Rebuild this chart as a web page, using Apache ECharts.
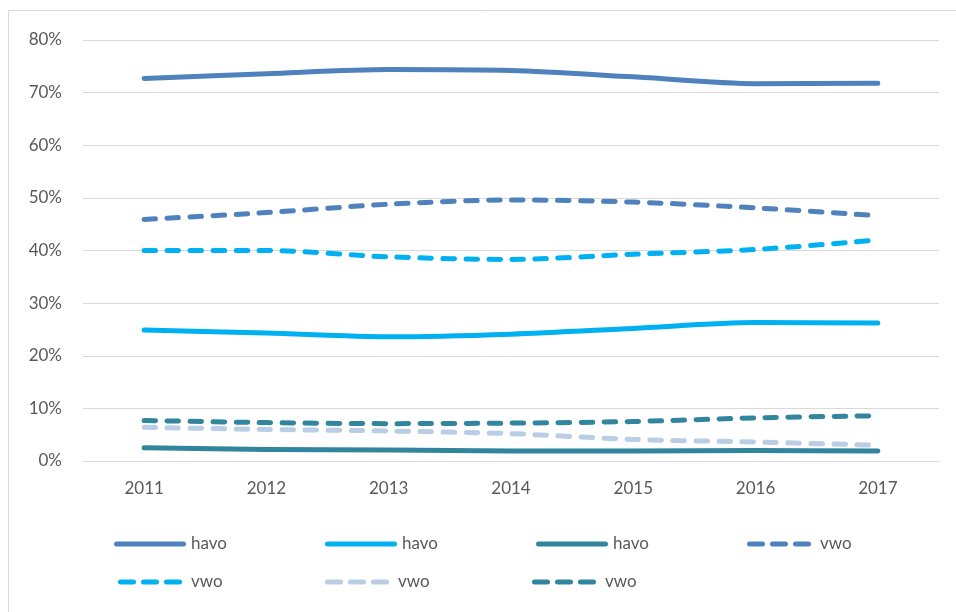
<!DOCTYPE html>
<html>
<head>
<meta charset="utf-8">
<script src="https://cdn.jsdelivr.net/npm/echarts@6/dist/echarts.min.js"></script>
<style>
  html, body { margin: 0; padding: 0; background: #ffffff; }
  #chart { width: 956px; height: 612px; }
</style>
</head>
<body>
<div id="chart"></div>
<script>
// Years on the x axis
const years = ['2011', '2012', '2013', '2014', '2015', '2016', '2017'];

// Shares per year, in percent
const havoBlue  = [72.7, 73.6, 74.4, 74.2, 73.0, 71.7, 71.8];
const havoCyan  = [24.9, 24.3, 23.6, 24.1, 25.2, 26.3, 26.2];
const havoTeal  = [2.5, 2.2, 2.1, 1.9, 1.9, 2.0, 1.9];
const vwoBlue   = [45.9, 47.2, 48.8, 49.6, 49.2, 48.1, 46.6];
const vwoCyan   = [40.0, 40.0, 38.8, 38.3, 39.3, 40.2, 42.0];
const vwoPale   = [6.4, 6.0, 5.7, 5.2, 4.1, 3.6, 3.0];
const vwoTeal   = [7.7, 7.3, 7.1, 7.2, 7.5, 8.2, 8.6];

// Legend labels
const legendLabels = ['havo', 'havo', 'havo', 'vwo', 'vwo', 'vwo', 'vwo'];

const FONT = 'Lato, "Open Sans", sans-serif';
const TEXT = '#595959';
const GRID = '#D9D9D9';

// Legend swatches: one rounded bar for solid lines, three rounded dashes for dashed ones
const solidIcon = 'path://M2.5,0H69.5A2.5,2.5 0 0 1 69.5,5H2.5A2.5,2.5 0 0 1 2.5,0Z';
const dashIcon = 'path://M2.5,0H15.5A2.5,2.5 0 0 1 15.5,5H2.5A2.5,2.5 0 0 1 2.5,0Z' +
  'M25.5,0H38.5A2.5,2.5 0 0 1 38.5,5H25.5A2.5,2.5 0 0 1 25.5,0Z' +
  'M48.5,0H61.5A2.5,2.5 0 0 1 61.5,5H48.5A2.5,2.5 0 0 1 48.5,0Z';

const defs = [
  { data: havoBlue, color: '#4F81BD', dashed: false },
  { data: havoCyan, color: '#00B0F0', dashed: false },
  { data: havoTeal, color: '#31859C', dashed: false },
  { data: vwoBlue,  color: '#4F81BD', dashed: true },
  { data: vwoCyan,  color: '#00B0F0', dashed: true },
  { data: vwoPale,  color: '#B9CDE5', dashed: true },
  { data: vwoTeal,  color: '#31859C', dashed: true }
];

// Series names are kept unique so each gets its own legend entry
const seriesNames = defs.map((d, i) => legendLabels[i] + '#' + i);

const series = defs.map((d, i) => ({
  name: seriesNames[i],
  type: 'line',
  data: d.data,
  smooth: 0.3,
  symbol: 'none',
  color: d.color,
  lineStyle: {
    color: d.color,
    width: 5,
    cap: 'round',
    join: 'round',
    type: d.dashed ? [11.5, 11.5] : 'solid'
  },
  emphasis: { disabled: true },
  z: 3
}));

const chart = echarts.init(document.getElementById('chart'), null, { renderer: 'canvas' });

chart.setOption({
  animation: false,
  backgroundColor: '#ffffff',
  graphic: [{
    type: 'rect',
    shape: { x: 8.5, y: 10.5, width: 1000, height: 700 },
    style: { fill: 'none', stroke: GRID, lineWidth: 1 },
    silent: true,
    z: 0
  }],
  grid: { left: 83, right: 17, top: 40, bottom: 151 },
  xAxis: {
    type: 'category',
    data: years,
    boundaryGap: true,
    axisLine: { show: true, lineStyle: { color: GRID, width: 1 } },
    axisTick: { show: false },
    axisLabel: { color: TEXT, fontFamily: FONT, fontSize: 17, margin: 19 }
  },
  yAxis: {
    type: 'value',
    min: 0,
    max: 80,
    interval: 10,
    axisLine: { show: false },
    axisTick: { show: false },
    splitLine: { lineStyle: { color: GRID, width: 1 } },
    axisLabel: { color: TEXT, fontFamily: FONT, fontSize: 17, margin: 21, formatter: '{value}%' }
  },
  legend: {
    left: 109,
    top: 530,
    width: 840,
    orient: 'horizontal',
    itemWidth: 72,
    itemHeight: 5,
    itemGap: 20,
    selectedMode: false,
    formatter: name => name.split('#')[0],
    textStyle: { color: TEXT, fontFamily: FONT, fontSize: 17, width: 114, lineHeight: 18 },
    data: seriesNames.map((n, i) => ({ name: n, icon: defs[i].dashed ? dashIcon : solidIcon }))
  },
  series: series
});
</script>
</body>
</html>
